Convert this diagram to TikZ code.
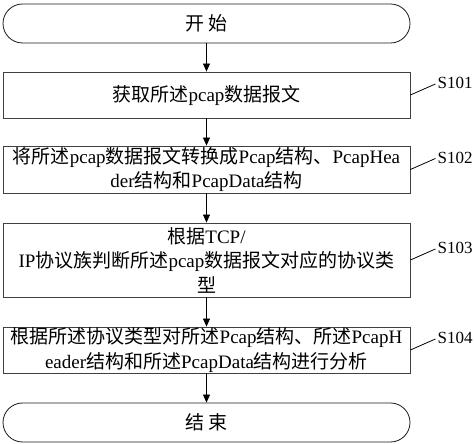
\documentclass[tikz,border=0pt]{standalone}
\usepackage{fontspec}
\setmainfont{Liberation Serif}
\newfontfamily\cjk{Noto Sans CJK SC}
\usepackage{tikz}
\usetikzlibrary{shapes,arrows,positioning,calc,arrows.meta}
\newcommand{\zh}[1]{{\cjk #1}}

\tikzset{
    stepbox/.style={draw=black!75, line width=0.8pt, minimum width=407pt, inner sep=0pt, align=center, font=\fontsize{19}{24.5}\selectfont},
    termbox/.style={stepbox, draw=black!90, rounded corners=19.5pt, minimum height=39pt},
    flow/.style={-{Triangle[length=8pt,width=7pt]}, line width=0.8pt},
    steplabel/.style={anchor=west, inner sep=1pt, font=\fontsize{17}{20}\selectfont}
}

\begin{document}
\begin{tikzpicture}[x=1pt,y=1pt]
    \useasboundingbox (0,0) rectangle (474,444);

    % Terminals and steps
    \node[termbox] (start) at (206.5,420.5) {\zh{开 始}};
    \node[stepbox, minimum height=46pt] (s101) at (206.5,349) {\zh{获取所述}pcap\zh{数据报文}};
    \node[stepbox, minimum height=47pt] (s102) at (206.5,274.5) {\zh{将所述}pcap\zh{数据报文转换成}Pcap\zh{结构、}PcapHea\\der\zh{结构和}PcapData\zh{结构}};
    \node[stepbox, minimum height=74pt] (s103) at (206.5,184) {\zh{根据}TCP/\\IP\zh{协议族判断所述}pcap\zh{数据报文对应的协议类}\\\zh{型}};
    \node[stepbox, minimum height=46pt] (s104) at (206.5,94) {\zh{根据所述协议类型对所述}Pcap\zh{结构、所述}PcapH\\eader\zh{结构和所述}PcapData\zh{结构进行分析}};
    \node[termbox] (stop) at (206.5,21.5) {\zh{结 束}};

    % Arrows
    \draw[flow] (start) -- (s101);
    \draw[flow] (s101) -- (s102);
    \draw[flow] (s102) -- (s103);
    \draw[flow] (s103) -- (s104);
    \draw[flow] (s104) -- (stop);

    % Step labels
    \foreach \s/\n in {s101/S101, s102/S102, s103/S103, s104/S104} {
        \draw[line width=0.8pt] (\s.east) -- ++(25,11) coordinate (\s-tip);
        \node[steplabel] (\s-lbl) at ($(\s-tip)+(1,1)$) {\n};
    }
\end{tikzpicture}
\end{document}
